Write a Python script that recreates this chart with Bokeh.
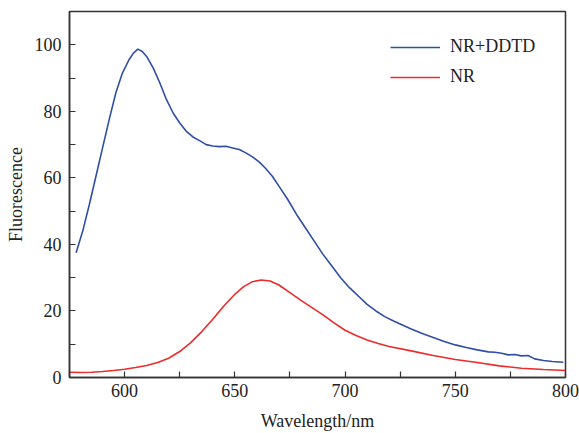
from bokeh.plotting import figure
from bokeh.models import Legend, LegendItem, Range1d, FixedTicker
from bokeh.embed import file_html
from bokeh.resources import INLINE

# NR+DDTD series
wl_blue = [578, 581, 584, 587, 590, 593, 596, 599, 602, 604, 606, 608, 610, 613, 616, 619,
           622, 625, 628, 631, 634, 637, 640, 643, 646, 649, 652, 655, 658, 661, 664, 667,
           670, 674, 678, 682, 686, 690, 694, 698, 702, 706, 710, 714, 718, 722, 726, 730,
           735, 740, 745, 750, 755, 760, 765, 768, 771, 774, 777, 780, 783, 786, 790, 794, 799]
fl_blue = [37.5, 44.0, 52.0, 60.5, 69.0, 77.5, 85.5, 91.5, 95.5, 97.5, 98.7, 98.0, 96.5, 93.0, 88.5, 83.5,
           79.5, 76.5, 74.0, 72.3, 71.2, 70.0, 69.6, 69.4, 69.5, 69.0, 68.5, 67.5, 66.3, 64.8, 62.8, 60.5,
           57.5, 53.5, 49.0, 45.0, 41.0, 37.0, 33.5, 30.0, 27.0, 24.5, 22.0, 20.0, 18.3, 17.0, 15.8, 14.6,
           13.2, 12.0, 10.8, 9.8, 9.0, 8.3, 7.7, 7.6, 7.3, 6.8, 6.9, 6.5, 6.6, 5.6, 5.1, 4.8, 4.6]

# NR series
wl_red = [575, 580, 585, 590, 595, 600, 605, 610, 615, 620, 625, 630, 635, 640, 645, 650,
          654, 658, 662, 666, 670, 675, 680, 685, 690, 695, 700, 705, 710, 715, 720, 730,
          740, 750, 760, 770, 780, 790, 800]
fl_red = [1.6, 1.5, 1.6, 1.8, 2.1, 2.5, 3.0, 3.6, 4.5, 5.8, 7.8, 10.5, 13.8, 17.5, 21.5, 25.0,
          27.3, 28.8, 29.3, 29.0, 27.8, 25.5, 23.2, 21.0, 18.8, 16.4, 14.2, 12.6, 11.3, 10.2, 9.3, 8.0,
          6.6, 5.4, 4.5, 3.5, 2.8, 2.4, 2.1]

x_ticks = [600, 650, 700, 750, 800]
x_minor = [575, 625, 675, 725, 775]
y_ticks = [0, 20, 40, 60, 80, 100]
y_minor = [10, 30, 50, 70, 90]

FONT = "Liberation Serif"
AX = "#333333"
TXT = "#222222"

p = figure(width=579, height=433, output_backend="svg", toolbar_location=None,
           x_range=Range1d(575, 800), y_range=Range1d(0, 110),
           min_border_left=69, min_border_right=14, min_border_top=11, min_border_bottom=55)

p.grid.visible = False
p.outline_line_color = AX
p.outline_line_width = 1.5
p.background_fill_color = "white"
p.border_fill_color = "white"

for ax in (p.xaxis[0], p.yaxis[0]):
    ax.axis_line_color = AX
    ax.axis_line_width = 1.5
    ax.major_tick_line_color = AX
    ax.minor_tick_line_color = AX
    ax.major_tick_line_width = 1.2
    ax.minor_tick_line_width = 1.2
    ax.major_tick_in = 6
    ax.major_tick_out = 0
    ax.minor_tick_in = 6
    ax.minor_tick_out = 0
    ax.major_label_text_font = FONT
    ax.major_label_text_font_size = "18px"
    ax.major_label_text_color = TXT
    ax.axis_label_text_font = FONT
    ax.axis_label_text_font_size = "18px"
    ax.axis_label_text_font_style = "normal"
    ax.axis_label_text_color = TXT

p.xaxis[0].ticker = FixedTicker(ticks=x_ticks, minor_ticks=x_minor)
p.yaxis[0].ticker = FixedTicker(ticks=y_ticks, minor_ticks=y_minor)
p.xaxis[0].axis_label = "Wavelength/nm"
p.yaxis[0].axis_label = "Fluorescence"
p.xaxis[0].major_label_standoff = 6
p.yaxis[0].major_label_standoff = 8
p.xaxis[0].axis_label_standoff = 11
p.yaxis[0].axis_label_standoff = 6

r1 = p.line(wl_blue, fl_blue, line_color="#2F4EA6", line_width=1.6)
r2 = p.line(wl_red, fl_red, line_color="#EE2A2A", line_width=1.6)

legend = Legend(items=[LegendItem(label="NR+DDTD", renderers=[r1]),
                       LegendItem(label="NR", renderers=[r2])],
                location=(321, 290), border_line_color=None, background_fill_alpha=0,
                padding=0, margin=0, spacing=9, glyph_width=50, glyph_height=20,
                label_height=20, label_standoff=10,
                label_text_font=FONT, label_text_font_size="18px", label_text_color=TXT)
p.add_layout(legend)

open("out.html", "w").write(file_html(p, INLINE))
